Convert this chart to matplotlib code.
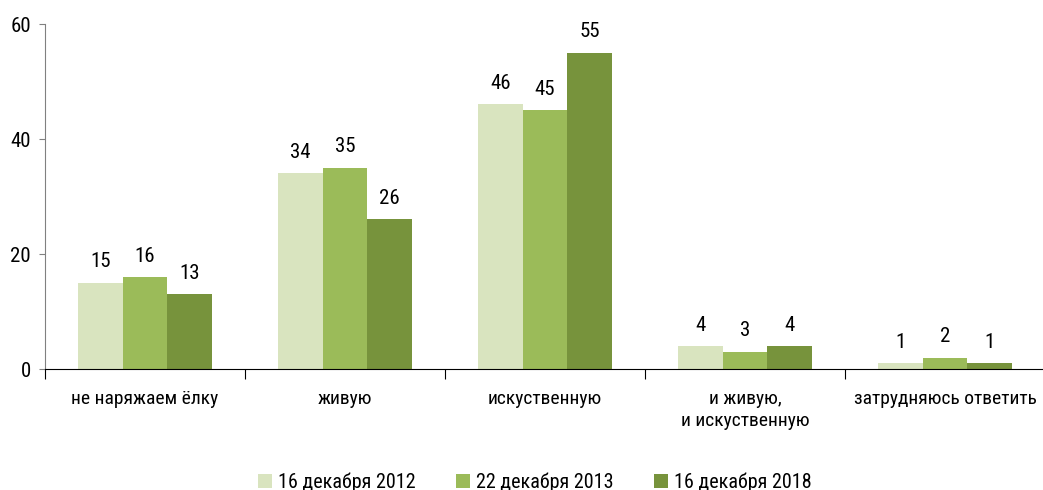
import numpy as np
import matplotlib
import matplotlib.pyplot as plt

matplotlib.use("Agg")

plt.rcParams["font.family"] = ["Liberation Sans Narrow", "Roboto Condensed",
                               "Open Sans Condensed", "Roboto", "DejaVu Sans"]

# Data
categories = ["не наряжаем ёлку", "живую", "искуственную",
              "и живую,\nи искуственную", "затрудняюсь ответить"]
series_names = ["16 декабря 2012", "22 декабря 2013", "16 декабря 2018"]
v2012 = [15, 34, 46, 4, 1]
v2013 = [16, 35, 45, 3, 2]
v2018 = [13, 26, 55, 4, 1]
colors = ["#d9e4bf", "#9bbb59", "#77933c"]

fig = plt.figure(figsize=(10.43, 4.9), dpi=100)
ax = fig.add_axes([45 / 1043, 1 - 369 / 490, 1000 / 1043, 345 / 490])

x = np.arange(len(categories))
w = 0.224
for i, (vals, name, c) in enumerate(zip([v2012, v2013, v2018], series_names, colors)):
    pos = x + (i - 1) * w
    ax.bar(pos, vals, width=w, color=c, label=name, linewidth=0)
    for px, v in zip(pos, vals):
        ax.text(px, v + 2.0, str(v), ha="center", va="bottom", fontsize=15)

ax.set_xlim(-0.5, len(categories) - 0.5)
ax.set_ylim(0, 60)
ax.set_yticks([0, 20, 40, 60])
ax.tick_params(axis="y", labelsize=15, length=4, color="#808080", pad=6)
ax.set_xticks(np.arange(len(categories) + 1) - 0.5)
ax.set_xticklabels([])
ax.set_xticks(x, minor=True)
ax.set_xticklabels(categories, minor=True, fontsize=14, linespacing=1.3)
ax.tick_params(axis="x", which="major", length=7, color="black", direction="out")
ax.tick_params(axis="x", which="minor", length=0, pad=15)

for s in ["top", "right"]:
    ax.spines[s].set_visible(False)
ax.spines["left"].set_color("#808080")
ax.spines["bottom"].set_color("black")

fig.legend(loc="lower center", ncol=3, frameon=False, fontsize=14.5,
           bbox_to_anchor=(0.5125, -0.008), borderaxespad=0.0, borderpad=0.1,
           handlelength=0.7, handleheight=0.7,
           handletextpad=0.3, columnspacing=2.0)

fig.savefig("out.png", dpi=100)
